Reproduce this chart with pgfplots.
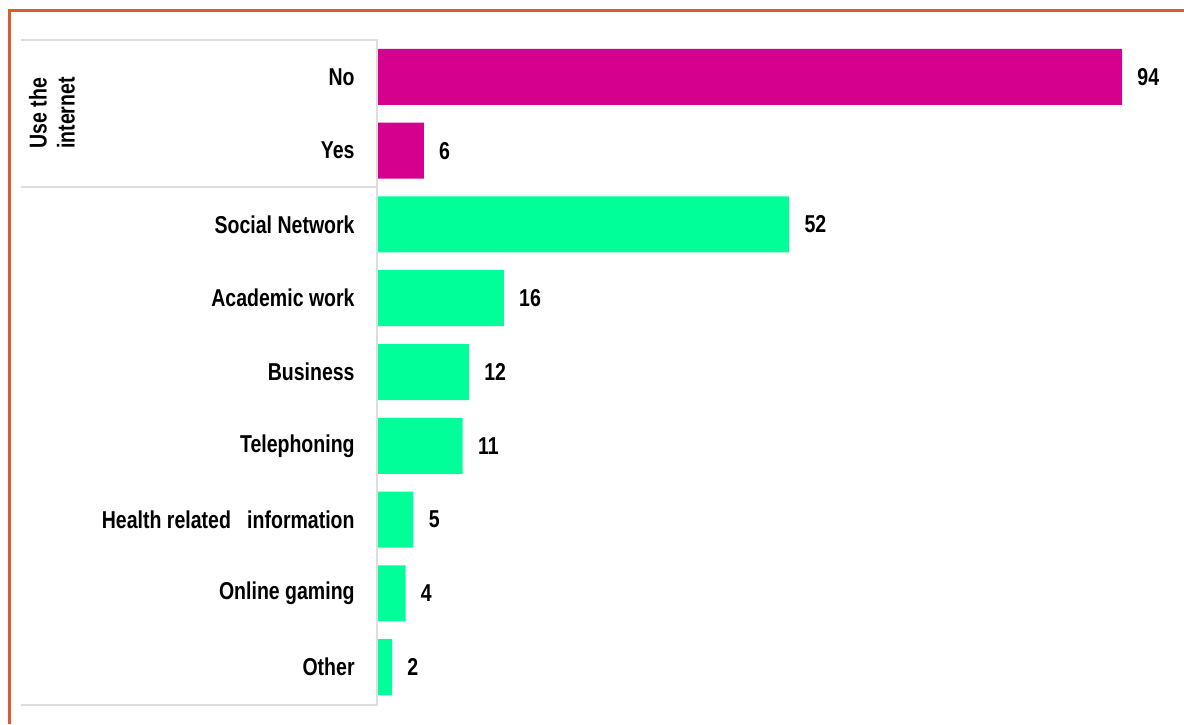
\documentclass[border=0pt]{standalone}
\usepackage{fontspec}
\setmainfont{Liberation Sans}[FakeStretch=0.8]
\usepackage{pgfplots}
\pgfplotsset{compat=1.18}
\definecolor{mag}{HTML}{D6008F}
\definecolor{grn}{HTML}{00FF99}
\definecolor{framec}{HTML}{E05A2E}
\definecolor{rulec}{HTML}{DDDDDD}

\begin{document}
\begin{tikzpicture}[font=\fontsize{12.2}{14}\selectfont\bfseries]
\useasboundingbox (0,0) rectangle (592pt,362pt);
% frame
\draw[framec, line width=1.5pt] (4.5pt,0pt) -- (4.5pt,356.5pt) -- (592pt,356.5pt);
\begin{axis}[
    at={(188.5pt,342pt)}, anchor=north west,
    scale only axis, width=396.3pt, height=332pt,
    xmin=0, xmax=100, ymin=-0.5, ymax=8.5,
    y dir=reverse,
    hide x axis,
    axis line style={draw=none},
    ytick={0,...,8},
    yticklabels={No,Yes,Social Network,Academic work,Business,Telephoning,
        Health related\ \ \ information,Online gaming,Other},
    major tick length=0pt,
    ytick style={draw=none},
    yticklabel style={inner sep=0pt, xshift=-11pt},
    xbar, bar width=28pt, bar shift=0pt,
    point meta=explicit,
    nodes near coords,
    nodes near coords style={anchor=west, inner sep=0pt, xshift=7.5pt, black},
    /pgf/number format/assume math mode=true,
    clip=false,
]
\addplot[fill=mag, draw=none] coordinates {
    (94,0)[94] (5.9,1)[6]
};
\addplot[fill=grn, draw=none] coordinates {
    (52,2)[52] (16,3)[16] (11.6,4)[12] (10.8,5)[11]
    (4.6,6)[5] (3.6,7)[4] (1.9,8)[2]
};
\end{axis}
% group rules
\draw[rulec, line width=1pt] (10.5pt,342pt) -- (188.5pt,342pt) -- (188.5pt,9.5pt) -- (10.5pt,9.5pt);
\draw[rulec, line width=1pt] (10.5pt,268.5pt) -- (188.5pt,268.5pt);
\node[rotate=90, align=center] at (26pt,305.5pt) {Use the\\internet};
\end{tikzpicture}
\end{document}
